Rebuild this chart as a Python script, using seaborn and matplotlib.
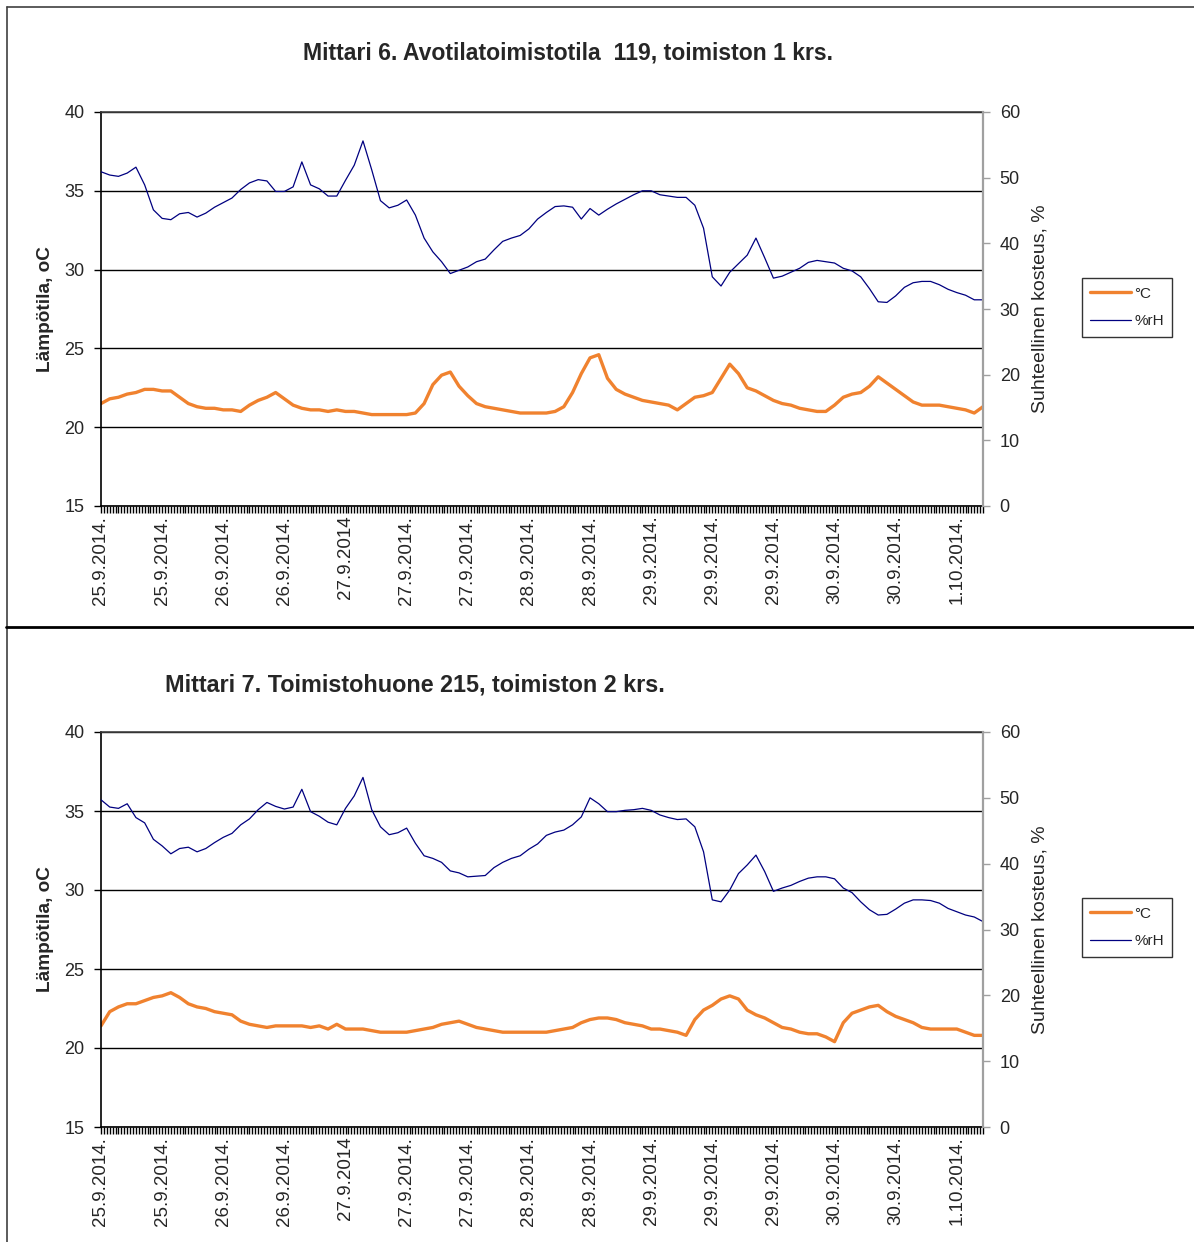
import numpy as np
import pandas as pd
import matplotlib
matplotlib.use("Agg")
import matplotlib.pyplot as plt
import seaborn as sns
from matplotlib.lines import Line2D
from matplotlib.ticker import MultipleLocator

# Päivämäärät x-akselilla (otsikko joka 7. mittauspisteen kohdalla)
x_labels = ["25.9.2014.", "25.9.2014.", "26.9.2014.", "26.9.2014.", "27.9.2014",
            "27.9.2014.", "27.9.2014.", "28.9.2014.", "28.9.2014.", "29.9.2014.",
            "29.9.2014.", "29.9.2014.", "30.9.2014.", "30.9.2014.", "1.10.2014."]
label_step = 7

# Mittari 6 - lämpötila (°C) ja suhteellinen kosteus (%rH)
temp_6 = [21.5, 21.8, 21.9, 22.1, 22.2, 22.4, 22.4, 22.3, 22.3, 21.9,
          21.5, 21.3, 21.2, 21.2, 21.1, 21.1, 21.0, 21.4, 21.7, 21.9,
          22.2, 21.8, 21.4, 21.2, 21.1, 21.1, 21.0, 21.1, 21.0, 21.0,
          20.9, 20.8, 20.8, 20.8, 20.8, 20.8, 20.9, 21.5, 22.7, 23.3,
          23.5, 22.6, 22.0, 21.5, 21.3, 21.2, 21.1, 21.0, 20.9, 20.9,
          20.9, 20.9, 21.0, 21.3, 22.2, 23.4, 24.4, 24.6, 23.1, 22.4,
          22.1, 21.9, 21.7, 21.6, 21.5, 21.4, 21.1, 21.5, 21.9, 22.0,
          22.2, 23.1, 24.0, 23.4, 22.5, 22.3, 22.0, 21.7, 21.5, 21.4,
          21.2, 21.1, 21.0, 21.0, 21.4, 21.9, 22.1, 22.2, 22.6, 23.2,
          22.8, 22.4, 22.0, 21.6, 21.4, 21.4, 21.4, 21.3, 21.2, 21.1,
          20.9, 21.3]
rh_6 = [50.9, 50.4, 50.2, 50.7, 51.6, 48.9, 45.1, 43.8, 43.6, 44.5,
        44.7, 44.0, 44.6, 45.5, 46.2, 46.9, 48.2, 49.2, 49.7, 49.5,
        47.9, 47.9, 48.6, 52.4, 48.9, 48.3, 47.2, 47.2, 49.6, 51.9,
        55.6, 51.2, 46.5, 45.4, 45.8, 46.6, 44.3, 40.8, 38.7, 37.2,
        35.4, 35.9, 36.4, 37.2, 37.6, 39.0, 40.3, 40.8, 41.2, 42.2,
        43.7, 44.7, 45.6, 45.7, 45.5, 43.7, 45.3, 44.3, 45.2, 46.0,
        46.7, 47.4, 48.0, 48.0, 47.4, 47.2, 47.0, 47.0, 45.8, 42.3,
        34.9, 33.5, 35.6, 36.9, 38.2, 40.8, 37.8, 34.7, 35.0, 35.6,
        36.2, 37.1, 37.4, 37.2, 37.0, 36.2, 35.8, 34.9, 33.1, 31.1,
        31.0, 32.0, 33.3, 34.0, 34.2, 34.2, 33.7, 33.0, 32.5, 32.1,
        31.4, 31.4]

# Mittari 7
temp_7 = [21.4, 22.3, 22.6, 22.8, 22.8, 23.0, 23.2, 23.3, 23.5, 23.2,
          22.8, 22.6, 22.5, 22.3, 22.2, 22.1, 21.7, 21.5, 21.4, 21.3,
          21.4, 21.4, 21.4, 21.4, 21.3, 21.4, 21.2, 21.5, 21.2, 21.2,
          21.2, 21.1, 21.0, 21.0, 21.0, 21.0, 21.1, 21.2, 21.3, 21.5,
          21.6, 21.7, 21.5, 21.3, 21.2, 21.1, 21.0, 21.0, 21.0, 21.0,
          21.0, 21.0, 21.1, 21.2, 21.3, 21.6, 21.8, 21.9, 21.9, 21.8,
          21.6, 21.5, 21.4, 21.2, 21.2, 21.1, 21.0, 20.8, 21.8, 22.4,
          22.7, 23.1, 23.3, 23.1, 22.4, 22.1, 21.9, 21.6, 21.3, 21.2,
          21.0, 20.9, 20.9, 20.7, 20.4, 21.6, 22.2, 22.4, 22.6, 22.7,
          22.3, 22.0, 21.8, 21.6, 21.3, 21.2, 21.2, 21.2, 21.2, 21.0,
          20.8, 20.8]
rh_7 = [49.7, 48.6, 48.4, 49.1, 47.0, 46.2, 43.7, 42.7, 41.5, 42.3,
        42.5, 41.8, 42.3, 43.2, 44.0, 44.6, 45.9, 46.8, 48.2, 49.3,
        48.7, 48.3, 48.6, 51.3, 47.9, 47.2, 46.3, 45.9, 48.4, 50.3,
        53.1, 48.2, 45.6, 44.4, 44.7, 45.4, 43.1, 41.2, 40.8, 40.2,
        38.9, 38.6, 38.0, 38.1, 38.2, 39.4, 40.2, 40.8, 41.2, 42.2,
        43.0, 44.3, 44.8, 45.1, 45.9, 47.1, 50.0, 49.1, 47.9, 47.9,
        48.1, 48.2, 48.4, 48.1, 47.4, 47.0, 46.7, 46.8, 45.6, 41.8,
        34.5, 34.2, 36.0, 38.5, 39.8, 41.3, 38.8, 35.8, 36.3, 36.7,
        37.3, 37.8, 38.0, 38.0, 37.7, 36.3, 35.6, 34.2, 33.0, 32.2,
        32.3, 33.1, 34.0, 34.5, 34.5, 34.4, 34.0, 33.2, 32.7, 32.2,
        31.9, 31.2]

ORANGE = "#F0822F"
NAVY = "#000080"

sns.set_style("white")
plt.rcParams["font.family"] = ["Liberation Sans", "DejaVu Sans"]

W, H = 1194, 1242
fig = plt.figure(figsize=(W / 100, H / 100), dpi=100)


def draw_panel(rect, temp, rh, title, title_xy, title_size, legend_y):
    df = pd.DataFrame({"piste": np.arange(len(temp)), "temp": temp, "rh": rh})
    ax = fig.add_axes(rect)
    ax2 = ax.twinx()

    sns.lineplot(data=df, x="piste", y="temp", ax=ax, color=ORANGE, lw=2.4, legend=False)
    sns.lineplot(data=df, x="piste", y="rh", ax=ax2, color=NAVY, lw=0.9, legend=False)

    ax.set_xlim(0, len(temp) - 1)
    ax.set_ylim(15, 40)
    ax2.set_ylim(0, 60)
    ax.set_yticks([15, 20, 25, 30, 35, 40])
    ax2.set_yticks([0, 10, 20, 30, 40, 50, 60])
    ax.yaxis.grid(True, color="black", lw=1)
    ax.set_axisbelow(True)

    ax.set_xticks(np.arange(len(x_labels)) * label_step)
    ax.set_xticklabels(x_labels, rotation=90, fontsize=13.5, va="top", ha="center")
    ax.xaxis.set_minor_locator(MultipleLocator(1 / 3))
    ax.tick_params(axis="x", which="both", direction="out", length=5, width=1.0,
                   color="black", pad=2, bottom=True)
    ax.tick_params(axis="y", direction="out", length=5, width=1, pad=7,
                   labelsize=13, left=True, color="black")
    ax2.tick_params(axis="y", direction="out", length=5, width=1, pad=7,
                    labelsize=13, right=True, color="#A0A0A0")

    for s in ["left", "bottom"]:
        ax.spines[s].set_color("black")
        ax.spines[s].set_linewidth(1.2)
    ax.spines["top"].set_color("#404040")
    ax.spines["top"].set_linewidth(1.2)
    ax.spines["right"].set_visible(False)
    for s in ["left", "top", "bottom"]:
        ax2.spines[s].set_visible(False)
    ax2.spines["right"].set_color("#A0A0A0")
    ax2.spines["right"].set_linewidth(1.6)

    ax.set_xlabel("")
    ax.set_ylabel("Lämpötila, oC", fontsize=13.7, fontweight="bold", va="center")
    ax.yaxis.set_label_coords(-0.063, 0.5)
    ax2.set_ylabel("Suhteellinen kosteus, %", fontsize=14, va="center")
    ax2.yaxis.set_label_coords(1.065, 0.5)

    fig.text(title_xy[0] / W, 1 - title_xy[1] / H, title, ha="center", va="center",
             fontsize=title_size, fontweight="bold")

    handles = [Line2D([], [], color=ORANGE, lw=2.4), Line2D([], [], color=NAVY, lw=0.9)]
    leg = fig.legend(handles, ["°C", "%rH"], loc="center",
                     bbox_to_anchor=(1127 / W, 1 - legend_y / H), fontsize=11,
                     frameon=True, fancybox=False, edgecolor="black",
                     handlelength=2.7, handletextpad=0.2, borderpad=0.55,
                     labelspacing=0.9)
    leg.get_frame().set_linewidth(1.0)
    return ax, ax2


draw_panel([101 / W, 1 - 506 / H, 882 / W, 394 / H], temp_6, rh_6,
           "Mittari 6. Avotilatoimistotila  119, toimiston 1 krs.", (568, 53), 16.6, 307.5)
draw_panel([101 / W, 1 - 1127 / H, 882 / W, 395 / H], temp_7, rh_7,
           "Mittari 7. Toimistohuone 215, toimiston 2 krs.", (415, 685), 16.8, 927.5)

# Kehykset kuten alkuperäisessä raportissa
fig.add_artist(Line2D([7 / W, 1], [1 - 7 / H, 1 - 7 / H], color="#404040", lw=1.2))
fig.add_artist(Line2D([7 / W, 7 / W], [0, 1 - 7 / H], color="#404040", lw=1.2))
fig.add_artist(Line2D([6 / W, 1], [1 - 627 / H, 1 - 627 / H], color="black", lw=2.0))

fig.savefig("out.png", dpi=100)
